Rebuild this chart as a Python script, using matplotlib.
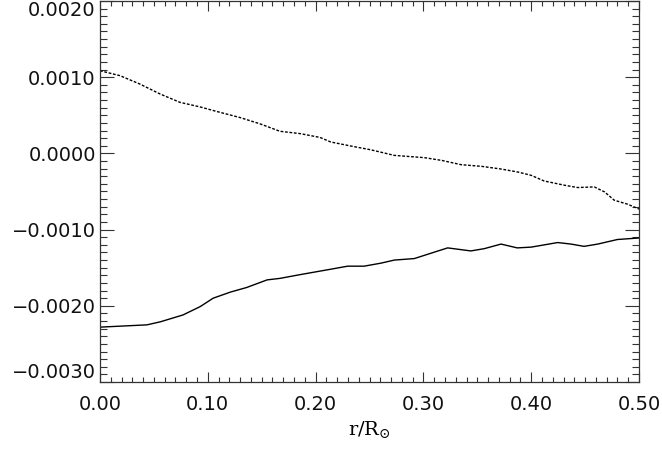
import matplotlib
matplotlib.use("Agg")
import matplotlib.pyplot as plt
from matplotlib.ticker import MultipleLocator, FixedFormatter, FixedLocator

plt.rcParams["mathtext.fontset"] = "dejavuserif"

# Solid curve
r_solid = [0.000, 0.0436, 0.056, 0.077, 0.093, 0.105, 0.121, 0.136, 0.155, 0.167,
           0.186, 0.214, 0.2297, 0.245, 0.2607, 0.273, 0.2916, 0.307, 0.3225, 0.344,
           0.3565, 0.372, 0.387, 0.400, 0.4245, 0.437, 0.449, 0.4617, 0.480, 0.500]
v_solid = [-0.00228, -0.00225, -0.00221, -0.00212, -0.00201, -0.00190, -0.00182, -0.00176,
           -0.00166, -0.00164, -0.00159, -0.00152, -0.00148, -0.00148, -0.00144, -0.00140,
           -0.00138, -0.00131, -0.00124, -0.00128, -0.00125, -0.00119, -0.00124, -0.00123,
           -0.00117, -0.00119, -0.00122, -0.00119, -0.00113, -0.00111]

# Dotted curve
r_dot = [0.000, 0.0186, 0.037, 0.0557, 0.0742, 0.0928, 0.111, 0.130, 0.148, 0.167,
         0.1855, 0.204, 0.214, 0.233, 0.251, 0.273, 0.301, 0.317, 0.335, 0.354,
         0.372, 0.3875, 0.400, 0.412, 0.431, 0.443, 0.4585, 0.468, 0.477, 0.4895, 0.500]
v_dot = [0.001085, 0.00102, 0.00091, 0.00078, 0.00067, 0.00061, 0.00054, 0.00047, 0.00039,
         0.00029, 0.00026, 0.00021, 0.00015, 0.000096, 0.000048, -0.000026, -0.000056,
         -0.000092, -0.000148, -0.00017, -0.000205, -0.000244, -0.000288, -0.000362,
         -0.000418, -0.000448, -0.00044, -0.000505, -0.000614, -0.000667, -0.00073]

xticks = [0.0, 0.1, 0.2, 0.3, 0.4, 0.5]
xticklabels = ["0.00", "0.10", "0.20", "0.30", "0.40", "0.50"]
yticks = [-0.003, -0.002, -0.001, 0.0, 0.001, 0.002]
yticklabels = ["\u22120.0030", "\u22120.0020", "\u22120.0010", "0.0000", "0.0010", "0.0020"]

fig = plt.figure(figsize=(6.62, 4.54), dpi=100)
ax = fig.add_axes([100/662, 1 - 382/454, 539/662, 381/454])

ax.plot(r_solid, v_solid, color="black", lw=1.0)
ax.plot(r_dot, v_dot, color="black", lw=1.0, linestyle=(0, (2, 1.2)))

ax.set_xlim(0, 0.5)
ax.set_ylim(-0.003, 0.002)

ax.xaxis.set_major_locator(FixedLocator(xticks))
ax.xaxis.set_major_formatter(FixedFormatter(xticklabels))
ax.xaxis.set_minor_locator(MultipleLocator(0.01))
ax.yaxis.set_major_locator(FixedLocator(yticks))
ax.yaxis.set_major_formatter(FixedFormatter(yticklabels))
ax.yaxis.set_minor_locator(MultipleLocator(0.0001))

ax.tick_params(which="both", direction="in", top=True, right=True, color="#333333",
               width=0.8, labelsize=14, labelcolor="#111111")
ax.tick_params(axis="x", which="major", length=7, pad=9)
ax.tick_params(axis="x", which="minor", length=3.5)
ax.tick_params(axis="y", which="major", length=10, pad=3)
ax.tick_params(axis="y", which="minor", length=5)

labs = ax.get_yticklabels()
labs[-1].set_va("top")
labs[0].set_va("bottom")

for s in ax.spines.values():
    s.set_linewidth(0.9)
    s.set_color("#333333")

ax.set_xlabel(r"r/R$_{\odot}$", fontsize=14, labelpad=4, family="DejaVu Serif")

fig.savefig("out.png", dpi=100)
